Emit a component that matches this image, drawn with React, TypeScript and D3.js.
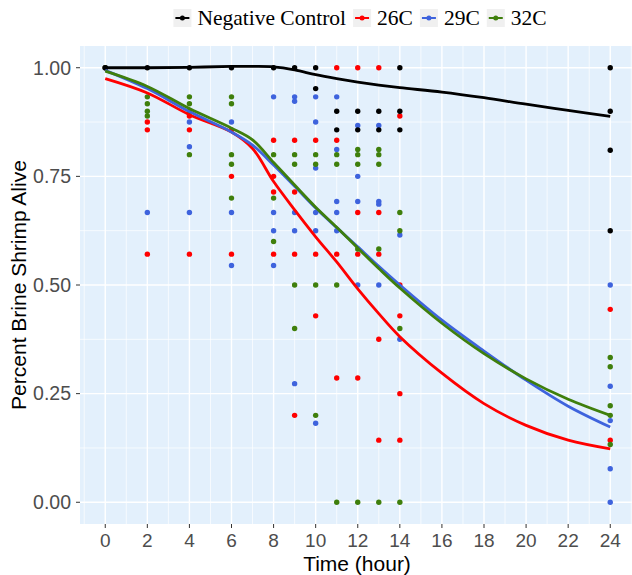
import React, { useEffect, useRef } from "react";
import * as d3 from "d3";

// series names + colours
const seriesNames = ["Negative Control", "26C", "29C", "32C"];
const seriesColors = ["#000000", "#ff0000", "#3e63dd", "#3f7f0c"];

// raw observations [hour, fraction alive]
const controlPts = [
  [0, 1], [2, 1], [4, 1], [6, 1], [8, 1], [9, 1], [10, 1], [10, 0.952],
  [11, 0.9], [11, 0.857], [12, 0.9], [12, 0.857], [13, 0.9], [13, 0.857],
  [14, 1], [14, 0.9], [14, 0.857], [24, 1], [24, 0.9], [24, 0.81], [24, 0.625],
];
const pts26 = [
  [0, 1], [2, 0.875], [2, 0.857], [2, 0.571], [4, 0.889], [4, 0.857], [4, 0.571],
  [6, 0.857], [6, 0.75], [6, 0.571], [8, 0.833], [8, 0.75], [8, 0.714], [8, 0.571],
  [9, 0.833], [9, 0.714], [9, 0.571], [9, 0.2], [10, 0.833], [10, 0.571], [10, 0.429],
  [11, 1], [11, 0.833], [11, 0.571], [11, 0.286], [12, 1], [12, 0.667], [12, 0.571],
  [12, 0.286], [13, 1], [13, 0.667], [13, 0.571], [13, 0.375], [13, 0.143],
  [14, 0.889], [14, 0.5], [14, 0.429], [14, 0.25], [14, 0.143], [24, 0.444], [24, 0.143],
];
const pts29 = [
  [0, 1], [2, 0.667], [4, 0.875], [4, 0.818], [4, 0.667], [6, 0.875], [6, 0.667],
  [6, 0.545], [8, 0.933], [8, 0.667], [8, 0.625], [8, 0.545], [9, 0.933], [9, 0.923],
  [9, 0.667], [9, 0.625], [9, 0.273], [10, 0.933], [10, 0.875], [10, 0.769],
  [10, 0.667], [10, 0.625], [10, 0.182], [11, 0.933], [11, 0.812], [11, 0.692],
  [11, 0.667], [11, 0.625], [12, 0.867], [12, 0.75], [12, 0.692], [12, 0.5],
  [13, 0.867], [13, 0.692], [13, 0.686], [13, 0.5], [14, 0.615], [14, 0.375],
  [24, 0.5], [24, 0.267], [24, 0.188], [24, 0.077], [24, 0],
];
const pts32 = [
  [0, 1], [2, 0.933], [2, 0.917], [2, 0.9], [2, 0.889], [4, 0.933], [4, 0.917],
  [4, 0.9], [4, 0.8], [6, 0.933], [6, 0.917], [6, 0.8], [6, 0.778], [6, 0.7],
  [8, 0.8], [8, 0.7], [8, 0.6], [9, 0.8], [9, 0.778], [9, 0.5], [9, 0.4],
  [10, 0.8], [10, 0.778], [10, 0.5], [10, 0.2], [11, 0.8], [11, 0.778], [11, 0.5],
  [11, 0], [12, 0.812], [12, 0.8], [12, 0.778], [12, 0.583], [12, 0], [13, 0.812],
  [13, 0.8], [13, 0.778], [13, 0.583], [13, 0], [14, 0.667], [14, 0.625], [14, 0.4],
  [14, 0], [24, 0.333], [24, 0.312], [24, 0.222], [24, 0.2], [24, 0.133],
];

// smoothed fits
const fitHours = [0, 2, 4, 6, 7, 8, 9, 10, 11, 12, 13, 14, 16, 18, 20, 22, 24];
const fitControl = [1.0, 1.0, 1.001, 1.003, 1.003, 1.002, 0.995, 0.984, 0.975, 0.967, 0.96, 0.954, 0.944, 0.931, 0.916, 0.902, 0.888];
const fit26 = [0.975, 0.942, 0.892, 0.852, 0.814, 0.738, 0.673, 0.611, 0.553, 0.491, 0.434, 0.381, 0.297, 0.227, 0.177, 0.143, 0.123];
const fit29 = [0.994, 0.952, 0.899, 0.852, 0.822, 0.776, 0.727, 0.677, 0.632, 0.588, 0.543, 0.5, 0.419, 0.348, 0.281, 0.221, 0.173];
const fit32 = [0.992, 0.957, 0.906, 0.861, 0.834, 0.782, 0.73, 0.679, 0.633, 0.585, 0.538, 0.493, 0.412, 0.342, 0.284, 0.237, 0.2];

const xTicks = [0, 2, 4, 6, 8, 10, 12, 14, 16, 18, 20, 22, 24];
const yTicks = [0, 0.25, 0.5, 0.75, 1];

const App = () => {
  const ref = useRef(null);

  useEffect(() => {
    document.body.style.margin = "0";
    const svg = d3.select(ref.current);
    svg.selectAll("*").remove();

    const x = d3.scaleLinear().domain([-1.2, 25.2]).range([80, 635.5]);
    const y = d3.scaleLinear().domain([-0.05, 1.05]).range([524, 46]);
    const sans = "'Liberation Sans', Arial, sans-serif";

    // panel
    svg.append("rect").attr("x", 80).attr("y", 46).attr("width", 552).attr("height", 478).attr("fill", "#e3f0fc");

    const xMinor = d3.range(-1, 26, 2);
    const yMinor = [0.125, 0.375, 0.625, 0.875];
    const grid = svg.append("g").attr("stroke", "#fff");
    grid.selectAll(".vx").data(xMinor).enter().append("line")
      .attr("x1", (d) => x(d)).attr("x2", (d) => x(d)).attr("y1", 46).attr("y2", 524).attr("stroke-width", 0.7);
    grid.selectAll(".hy").data(yMinor).enter().append("line")
      .attr("y1", (d) => y(d)).attr("y2", (d) => y(d)).attr("x1", 80).attr("x2", 632).attr("stroke-width", 0.7);
    grid.selectAll(".vX").data(xTicks).enter().append("line")
      .attr("x1", (d) => x(d)).attr("x2", (d) => x(d)).attr("y1", 46).attr("y2", 524).attr("stroke-width", 1.4);
    grid.selectAll(".hY").data(yTicks).enter().append("line")
      .attr("y1", (d) => y(d)).attr("y2", (d) => y(d)).attr("x1", 80).attr("x2", 632).attr("stroke-width", 1.4);

    // points
    const allPts = [controlPts, pts26, pts29, pts32];
    const drawOrder = [1, 2, 3, 0];
    drawOrder.forEach((i) => {
      svg.append("g").selectAll("circle").data(allPts[i]).enter().append("circle")
        .attr("cx", (d) => x(d[0])).attr("cy", (d) => y(d[1])).attr("r", 2.7)
        .attr("fill", seriesColors[i]);
    });

    // fitted lines
    const fits = [fitControl, fit26, fit29, fit32];
    const line = d3.line().x((d) => x(d[0])).y((d) => y(d[1])).curve(d3.curveCatmullRom.alpha(0.5));
    fits.forEach((f, i) => {
      svg.append("path").datum(fitHours.map((h, j) => [h, f[j]]))
        .attr("d", line).attr("fill", "none").attr("stroke", seriesColors[i]).attr("stroke-width", 2.8);
    });

    // axes
    const ax = svg.append("g").attr("font-family", sans).attr("fill", "#4d4d4d");
    xTicks.forEach((t) => {
      ax.append("line").attr("x1", x(t)).attr("x2", x(t)).attr("y1", 524).attr("y2", 528).attr("stroke", "#333").attr("stroke-width", 1);
      ax.append("text").attr("x", x(t)).attr("y", 547).attr("text-anchor", "middle").attr("font-size", 19).text(t);
    });
    yTicks.forEach((t) => {
      ax.append("line").attr("x1", 76).attr("x2", 80).attr("y1", y(t)).attr("y2", y(t)).attr("stroke", "#333").attr("stroke-width", 1);
      ax.append("text").attr("x", 71).attr("y", y(t)).attr("dy", "0.35em").attr("text-anchor", "end").attr("font-size", 19.5).text(t.toFixed(2));
    });
    svg.append("text").attr("x", 357).attr("y", 571).attr("text-anchor", "middle")
      .attr("font-family", sans).attr("font-size", 21).text("Time (hour)");
    svg.append("text").attr("transform", "translate(26,285) rotate(-90)").attr("text-anchor", "middle")
      .attr("font-family", sans).attr("font-size", 21).text("Percent Brine Shrimp Alive");

    // legend
    const lg = svg.append("g").attr("font-family", "'Liberation Serif', 'Times New Roman', serif").attr("font-size", 21.5);
    let cx = 0;
    seriesNames.forEach((name, i) => {
      const g = lg.append("g").attr("transform", `translate(${cx},0)`);
      g.append("rect").attr("x", 0).attr("y", 9).attr("width", 18).attr("height", 18).attr("fill", "#f0f0f0");
      g.append("line").attr("x1", 2).attr("x2", 16).attr("y1", 18).attr("y2", 18).attr("stroke", seriesColors[i]).attr("stroke-width", 2);
      g.append("circle").attr("cx", 9).attr("cy", 18).attr("r", 2.5).attr("fill", seriesColors[i]);
      const t = g.append("text").attr("x", 24).attr("y", 25).attr("fill", "#000").text(name);
      const w = t.node().getComputedTextLength();
      cx += 24 + w + 7;
    });
    const total = cx - 7;
    lg.attr("transform", `translate(${360 - total / 2},0)`);
  }, []);

  return (
    <svg ref={ref} width={632} height={575} style={{ position: "absolute", left: 0, top: 0, background: "#fff" }} />
  );
};

export default App;
